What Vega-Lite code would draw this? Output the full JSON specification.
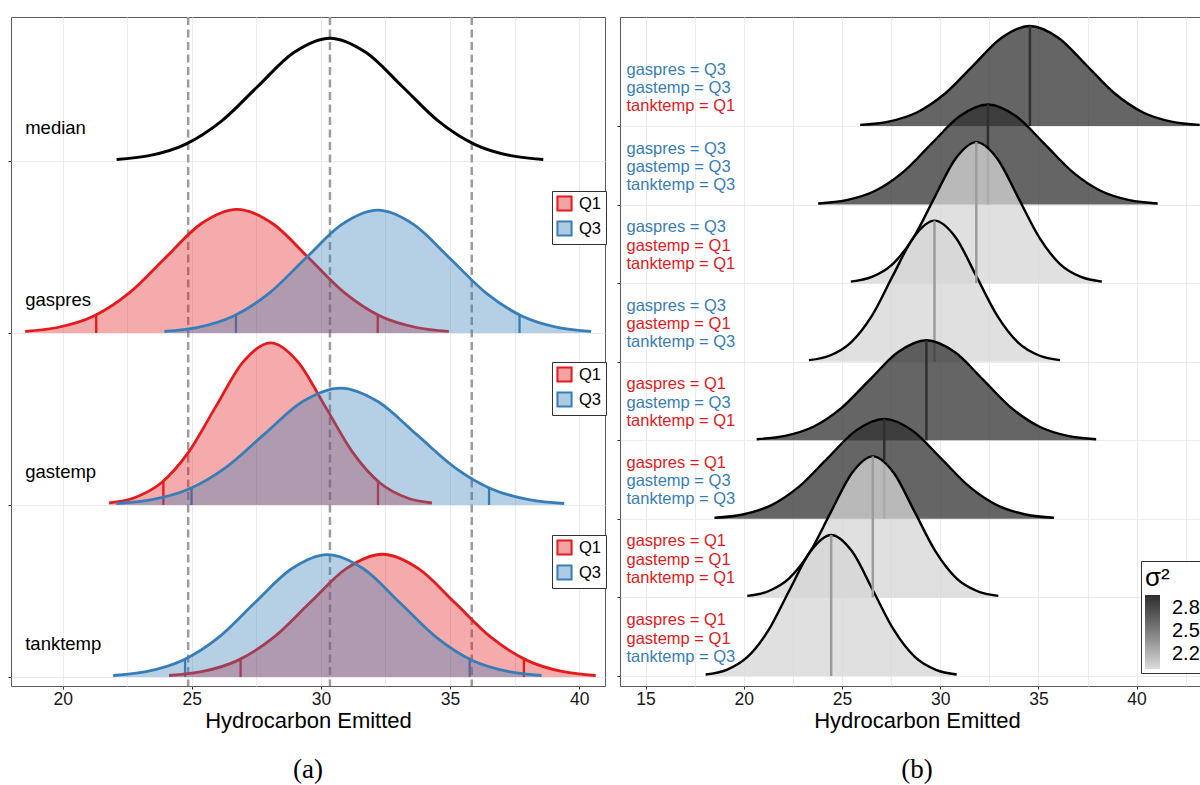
{
  "$schema": "https://vega.github.io/schema/vega-lite/v6.json",
  "padding": {"left": 7, "top": 15, "right": 0, "bottom": 0},
  "spacing": 9,
  "config": {
    "font": "Liberation Sans",
    "view": {"stroke": "#5a5a5a", "strokeWidth": 1},
    "axis": {"domain": false, "gridColor": "#ebebeb", "gridWidth": 1, "tickColor": "#333333", "tickSize": 3, "tickWidth": 1,
      "labelFont": "Liberation Sans", "labelFontSize": 17.5, "labelColor": "#1a1a1a", "labelPadding": 1.5,
      "titleFont": "Liberation Sans", "titleFontSize": 22, "titleFontWeight": "normal", "titleColor": "#000000", "titlePadding": 2},
    "legend": {"labelFont": "Liberation Sans", "titleFont": "Liberation Sans"}
  },
  "datasets": {
    "cA": [
      {"c":"median","g":"M","b":3,"x":22.09,"t":3.009},{"c":"median","g":"M","b":3,"x":23.35,"t":3.031},{"c":"median","g":"M","b":3,"x":24.75,"t":3.097},{"c":"median","g":"M","b":3,"x":26.15,"t":3.232},{"c":"median","g":"M","b":3,"x":27.55,"t":3.433},{"c":"median","g":"M","b":3,"x":28.95,"t":3.630},{"c":"median","g":"M","b":3,"x":30.35,"t":3.714},{"c":"median","g":"M","b":3,"x":31.75,"t":3.630},{"c":"median","g":"M","b":3,"x":33.15,"t":3.433},{"c":"median","g":"M","b":3,"x":34.55,"t":3.232},{"c":"median","g":"M","b":3,"x":35.95,"t":3.097},{"c":"median","g":"M","b":3,"x":37.35,"t":3.031},{"c":"median","g":"M","b":3,"x":38.61,"t":3.009},
      {"c":"gaspres","g":"Q1","b":2,"x":18.55,"t":2.009},{"c":"gaspres","g":"Q1","b":2,"x":19.80,"t":2.032},{"c":"gaspres","g":"Q1","b":2,"x":21.19,"t":2.097},{"c":"gaspres","g":"Q1","b":2,"x":22.58,"t":2.233},{"c":"gaspres","g":"Q1","b":2,"x":23.97,"t":2.436},{"c":"gaspres","g":"Q1","b":2,"x":25.36,"t":2.635},{"c":"gaspres","g":"Q1","b":2,"x":26.75,"t":2.719},{"c":"gaspres","g":"Q1","b":2,"x":28.14,"t":2.635},{"c":"gaspres","g":"Q1","b":2,"x":29.53,"t":2.436},{"c":"gaspres","g":"Q1","b":2,"x":30.92,"t":2.233},{"c":"gaspres","g":"Q1","b":2,"x":32.31,"t":2.097},{"c":"gaspres","g":"Q1","b":2,"x":33.70,"t":2.032},{"c":"gaspres","g":"Q1","b":2,"x":34.95,"t":2.009},
      {"c":"gaspres","g":"Q3","b":2,"x":23.94,"t":2.009},{"c":"gaspres","g":"Q3","b":2,"x":25.20,"t":2.031},{"c":"gaspres","g":"Q3","b":2,"x":26.60,"t":2.097},{"c":"gaspres","g":"Q3","b":2,"x":28.00,"t":2.232},{"c":"gaspres","g":"Q3","b":2,"x":29.40,"t":2.433},{"c":"gaspres","g":"Q3","b":2,"x":30.80,"t":2.630},{"c":"gaspres","g":"Q3","b":2,"x":32.20,"t":2.714},{"c":"gaspres","g":"Q3","b":2,"x":33.60,"t":2.630},{"c":"gaspres","g":"Q3","b":2,"x":35.00,"t":2.433},{"c":"gaspres","g":"Q3","b":2,"x":36.40,"t":2.232},{"c":"gaspres","g":"Q3","b":2,"x":37.80,"t":2.097},{"c":"gaspres","g":"Q3","b":2,"x":39.20,"t":2.031},{"c":"gaspres","g":"Q3","b":2,"x":40.46,"t":2.009},
      {"c":"gastemp","g":"Q1","b":1,"x":21.80,"t":1.012},{"c":"gastemp","g":"Q1","b":1,"x":22.75,"t":1.041},{"c":"gastemp","g":"Q1","b":1,"x":23.81,"t":1.128},{"c":"gastemp","g":"Q1","b":1,"x":24.87,"t":1.306},{"c":"gastemp","g":"Q1","b":1,"x":25.93,"t":1.572},{"c":"gastemp","g":"Q1","b":1,"x":26.99,"t":1.832},{"c":"gastemp","g":"Q1","b":1,"x":28.05,"t":1.943},{"c":"gastemp","g":"Q1","b":1,"x":29.11,"t":1.832},{"c":"gastemp","g":"Q1","b":1,"x":30.17,"t":1.572},{"c":"gastemp","g":"Q1","b":1,"x":31.23,"t":1.306},{"c":"gastemp","g":"Q1","b":1,"x":32.29,"t":1.128},{"c":"gastemp","g":"Q1","b":1,"x":33.35,"t":1.041},{"c":"gastemp","g":"Q1","b":1,"x":34.30,"t":1.012},
      {"c":"gastemp","g":"Q3","b":1,"x":22.08,"t":1.009},{"c":"gastemp","g":"Q3","b":1,"x":23.40,"t":1.030},{"c":"gastemp","g":"Q3","b":1,"x":24.87,"t":1.092},{"c":"gastemp","g":"Q3","b":1,"x":26.34,"t":1.221},{"c":"gastemp","g":"Q3","b":1,"x":27.81,"t":1.412},{"c":"gastemp","g":"Q3","b":1,"x":29.28,"t":1.600},{"c":"gastemp","g":"Q3","b":1,"x":30.75,"t":1.680},{"c":"gastemp","g":"Q3","b":1,"x":32.22,"t":1.600},{"c":"gastemp","g":"Q3","b":1,"x":33.69,"t":1.412},{"c":"gastemp","g":"Q3","b":1,"x":35.16,"t":1.221},{"c":"gastemp","g":"Q3","b":1,"x":36.63,"t":1.092},{"c":"gastemp","g":"Q3","b":1,"x":38.10,"t":1.030},{"c":"gastemp","g":"Q3","b":1,"x":39.42,"t":1.009},
      {"c":"tanktemp","g":"Q1","b":0,"x":24.12,"t":0.009},{"c":"tanktemp","g":"Q1","b":0,"x":25.38,"t":0.031},{"c":"tanktemp","g":"Q1","b":0,"x":26.78,"t":0.097},{"c":"tanktemp","g":"Q1","b":0,"x":28.18,"t":0.232},{"c":"tanktemp","g":"Q1","b":0,"x":29.58,"t":0.433},{"c":"tanktemp","g":"Q1","b":0,"x":30.98,"t":0.630},{"c":"tanktemp","g":"Q1","b":0,"x":32.38,"t":0.714},{"c":"tanktemp","g":"Q1","b":0,"x":33.78,"t":0.630},{"c":"tanktemp","g":"Q1","b":0,"x":35.18,"t":0.433},{"c":"tanktemp","g":"Q1","b":0,"x":36.58,"t":0.232},{"c":"tanktemp","g":"Q1","b":0,"x":37.98,"t":0.097},{"c":"tanktemp","g":"Q1","b":0,"x":39.38,"t":0.031},{"c":"tanktemp","g":"Q1","b":0,"x":40.64,"t":0.009},
      {"c":"tanktemp","g":"Q3","b":0,"x":21.96,"t":0.009},{"c":"tanktemp","g":"Q3","b":0,"x":23.23,"t":0.031},{"c":"tanktemp","g":"Q3","b":0,"x":24.63,"t":0.096},{"c":"tanktemp","g":"Q3","b":0,"x":26.04,"t":0.231},{"c":"tanktemp","g":"Q3","b":0,"x":27.44,"t":0.432},{"c":"tanktemp","g":"Q3","b":0,"x":28.85,"t":0.628},{"c":"tanktemp","g":"Q3","b":0,"x":30.25,"t":0.712},{"c":"tanktemp","g":"Q3","b":0,"x":31.66,"t":0.628},{"c":"tanktemp","g":"Q3","b":0,"x":33.06,"t":0.432},{"c":"tanktemp","g":"Q3","b":0,"x":34.47,"t":0.231},{"c":"tanktemp","g":"Q3","b":0,"x":35.87,"t":0.096},{"c":"tanktemp","g":"Q3","b":0,"x":37.28,"t":0.031},{"c":"tanktemp","g":"Q3","b":0,"x":38.54,"t":0.009}
    ],
    "qA": [
      {"c":"gaspres","g":"Q1","b":2,"x":21.30,"t":2.105},{"c":"gaspres","g":"Q1","b":2,"x":32.20,"t":2.105},
      {"c":"gaspres","g":"Q3","b":2,"x":26.71,"t":2.105},{"c":"gaspres","g":"Q3","b":2,"x":37.69,"t":2.105},
      {"c":"gastemp","g":"Q1","b":1,"x":23.90,"t":1.138},{"c":"gastemp","g":"Q1","b":1,"x":32.21,"t":1.138},
      {"c":"gastemp","g":"Q3","b":1,"x":24.99,"t":1.100},{"c":"gastemp","g":"Q3","b":1,"x":36.51,"t":1.100},
      {"c":"tanktemp","g":"Q1","b":0,"x":26.89,"t":0.105},{"c":"tanktemp","g":"Q1","b":0,"x":37.86,"t":0.105},
      {"c":"tanktemp","g":"Q3","b":0,"x":24.74,"t":0.104},{"c":"tanktemp","g":"Q3","b":0,"x":35.76,"t":0.104}
    ],
    "dA": [{"x":24.86},{"x":30.35},{"x":35.84}],
    "labA": [{"c":"median","b":3},{"c":"gaspres","b":2},{"c":"gastemp","b":1},{"c":"tanktemp","b":0}],
    "cB": [
      {"r":1,"b":7,"s":2.95,"x":25.93,"t":7.014},{"r":1,"b":7,"s":2.95,"x":27.37,"t":7.056},{"r":1,"b":7,"s":2.95,"x":28.81,"t":7.172},{"r":1,"b":7,"s":2.95,"x":30.25,"t":7.413},{"r":1,"b":7,"s":2.95,"x":31.69,"t":7.772},{"r":1,"b":7,"s":2.95,"x":33.13,"t":8.123},{"r":1,"b":7,"s":2.95,"x":34.57,"t":8.273},{"r":1,"b":7,"s":2.95,"x":36.01,"t":8.123},{"r":1,"b":7,"s":2.95,"x":37.45,"t":7.772},{"r":1,"b":7,"s":2.95,"x":38.89,"t":7.413},{"r":1,"b":7,"s":2.95,"x":40.33,"t":7.172},{"r":1,"b":7,"s":2.95,"x":41.77,"t":7.056},{"r":1,"b":7,"s":2.95,"x":43.21,"t":7.014},
      {"r":2,"b":6,"s":2.95,"x":23.79,"t":6.014},{"r":2,"b":6,"s":2.95,"x":25.23,"t":6.056},{"r":2,"b":6,"s":2.95,"x":26.67,"t":6.172},{"r":2,"b":6,"s":2.95,"x":28.11,"t":6.413},{"r":2,"b":6,"s":2.95,"x":29.55,"t":6.772},{"r":2,"b":6,"s":2.95,"x":30.99,"t":7.123},{"r":2,"b":6,"s":2.95,"x":32.43,"t":7.273},{"r":2,"b":6,"s":2.95,"x":33.87,"t":7.123},{"r":2,"b":6,"s":2.95,"x":35.31,"t":6.772},{"r":2,"b":6,"s":2.95,"x":36.75,"t":6.413},{"r":2,"b":6,"s":2.95,"x":38.19,"t":6.172},{"r":2,"b":6,"s":2.95,"x":39.63,"t":6.056},{"r":2,"b":6,"s":2.95,"x":41.07,"t":6.014},
      {"r":3,"b":5,"s":2.03,"x":25.45,"t":5.020},{"r":3,"b":5,"s":2.03,"x":26.52,"t":5.079},{"r":3,"b":5,"s":2.03,"x":27.58,"t":5.243},{"r":3,"b":5,"s":2.03,"x":28.65,"t":5.583},{"r":3,"b":5,"s":2.03,"x":29.71,"t":6.089},{"r":3,"b":5,"s":2.03,"x":30.78,"t":6.584},{"r":3,"b":5,"s":2.03,"x":31.84,"t":6.795},{"r":3,"b":5,"s":2.03,"x":32.91,"t":6.584},{"r":3,"b":5,"s":2.03,"x":33.97,"t":6.089},{"r":3,"b":5,"s":2.03,"x":35.04,"t":5.583},{"r":3,"b":5,"s":2.03,"x":36.10,"t":5.243},{"r":3,"b":5,"s":2.03,"x":37.17,"t":5.079},{"r":3,"b":5,"s":2.03,"x":38.23,"t":5.020},
      {"r":4,"b":4,"s":2.03,"x":23.32,"t":4.020},{"r":4,"b":4,"s":2.03,"x":24.39,"t":4.079},{"r":4,"b":4,"s":2.03,"x":25.45,"t":4.243},{"r":4,"b":4,"s":2.03,"x":26.52,"t":4.583},{"r":4,"b":4,"s":2.03,"x":27.58,"t":5.089},{"r":4,"b":4,"s":2.03,"x":28.65,"t":5.584},{"r":4,"b":4,"s":2.03,"x":29.71,"t":5.795},{"r":4,"b":4,"s":2.03,"x":30.78,"t":5.584},{"r":4,"b":4,"s":2.03,"x":31.84,"t":5.089},{"r":4,"b":4,"s":2.03,"x":32.91,"t":4.583},{"r":4,"b":4,"s":2.03,"x":33.97,"t":4.243},{"r":4,"b":4,"s":2.03,"x":35.04,"t":4.079},{"r":4,"b":4,"s":2.03,"x":36.10,"t":4.020},
      {"r":5,"b":3,"s":2.95,"x":20.66,"t":3.014},{"r":5,"b":3,"s":2.95,"x":22.10,"t":3.056},{"r":5,"b":3,"s":2.95,"x":23.54,"t":3.172},{"r":5,"b":3,"s":2.95,"x":24.98,"t":3.413},{"r":5,"b":3,"s":2.95,"x":26.42,"t":3.772},{"r":5,"b":3,"s":2.95,"x":27.86,"t":4.123},{"r":5,"b":3,"s":2.95,"x":29.30,"t":4.273},{"r":5,"b":3,"s":2.95,"x":30.74,"t":4.123},{"r":5,"b":3,"s":2.95,"x":32.18,"t":3.772},{"r":5,"b":3,"s":2.95,"x":33.62,"t":3.413},{"r":5,"b":3,"s":2.95,"x":35.06,"t":3.172},{"r":5,"b":3,"s":2.95,"x":36.50,"t":3.056},{"r":5,"b":3,"s":2.95,"x":37.94,"t":3.014},
      {"r":6,"b":2,"s":2.95,"x":18.51,"t":2.014},{"r":6,"b":2,"s":2.95,"x":19.95,"t":2.056},{"r":6,"b":2,"s":2.95,"x":21.39,"t":2.172},{"r":6,"b":2,"s":2.95,"x":22.83,"t":2.413},{"r":6,"b":2,"s":2.95,"x":24.27,"t":2.772},{"r":6,"b":2,"s":2.95,"x":25.71,"t":3.123},{"r":6,"b":2,"s":2.95,"x":27.15,"t":3.273},{"r":6,"b":2,"s":2.95,"x":28.59,"t":3.123},{"r":6,"b":2,"s":2.95,"x":30.03,"t":2.772},{"r":6,"b":2,"s":2.95,"x":31.47,"t":2.413},{"r":6,"b":2,"s":2.95,"x":32.91,"t":2.172},{"r":6,"b":2,"s":2.95,"x":34.35,"t":2.056},{"r":6,"b":2,"s":2.95,"x":35.79,"t":2.014},
      {"r":7,"b":1,"s":2.03,"x":20.18,"t":1.020},{"r":7,"b":1,"s":2.03,"x":21.25,"t":1.079},{"r":7,"b":1,"s":2.03,"x":22.31,"t":1.243},{"r":7,"b":1,"s":2.03,"x":23.38,"t":1.583},{"r":7,"b":1,"s":2.03,"x":24.44,"t":2.089},{"r":7,"b":1,"s":2.03,"x":25.51,"t":2.584},{"r":7,"b":1,"s":2.03,"x":26.57,"t":2.795},{"r":7,"b":1,"s":2.03,"x":27.64,"t":2.584},{"r":7,"b":1,"s":2.03,"x":28.70,"t":2.089},{"r":7,"b":1,"s":2.03,"x":29.77,"t":1.583},{"r":7,"b":1,"s":2.03,"x":30.83,"t":1.243},{"r":7,"b":1,"s":2.03,"x":31.90,"t":1.079},{"r":7,"b":1,"s":2.03,"x":32.96,"t":1.020},
      {"r":8,"b":0,"s":2.03,"x":18.06,"t":0.020},{"r":8,"b":0,"s":2.03,"x":19.13,"t":0.079},{"r":8,"b":0,"s":2.03,"x":20.19,"t":0.243},{"r":8,"b":0,"s":2.03,"x":21.26,"t":0.583},{"r":8,"b":0,"s":2.03,"x":22.32,"t":1.089},{"r":8,"b":0,"s":2.03,"x":23.39,"t":1.584},{"r":8,"b":0,"s":2.03,"x":24.45,"t":1.795},{"r":8,"b":0,"s":2.03,"x":25.52,"t":1.584},{"r":8,"b":0,"s":2.03,"x":26.58,"t":1.089},{"r":8,"b":0,"s":2.03,"x":27.65,"t":0.583},{"r":8,"b":0,"s":2.03,"x":28.71,"t":0.243},{"r":8,"b":0,"s":2.03,"x":29.78,"t":0.079},{"r":8,"b":0,"s":2.03,"x":30.84,"t":0.020}
    ],
    "mB": [
      {"r":1,"b":7,"s":2.95,"x":34.57,"t":8.273},{"r":2,"b":6,"s":2.95,"x":32.43,"t":7.273},{"r":3,"b":5,"s":2.03,"x":31.84,"t":6.795},{"r":4,"b":4,"s":2.03,"x":29.71,"t":5.795},
      {"r":5,"b":3,"s":2.95,"x":29.30,"t":4.273},{"r":6,"b":2,"s":2.95,"x":27.15,"t":3.273},{"r":7,"b":1,"s":2.03,"x":26.57,"t":2.795},{"r":8,"b":0,"s":2.03,"x":24.45,"t":1.795}
    ],
    "labB": [
      {"b":7,"k":1,"txt":"gaspres = Q3","q":"Q3"},{"b":7,"k":2,"txt":"gastemp = Q3","q":"Q3"},{"b":7,"k":3,"txt":"tanktemp = Q1","q":"Q1"},
      {"b":6,"k":1,"txt":"gaspres = Q3","q":"Q3"},{"b":6,"k":2,"txt":"gastemp = Q3","q":"Q3"},{"b":6,"k":3,"txt":"tanktemp = Q3","q":"Q3"},
      {"b":5,"k":1,"txt":"gaspres = Q3","q":"Q3"},{"b":5,"k":2,"txt":"gastemp = Q1","q":"Q1"},{"b":5,"k":3,"txt":"tanktemp = Q1","q":"Q1"},
      {"b":4,"k":1,"txt":"gaspres = Q3","q":"Q3"},{"b":4,"k":2,"txt":"gastemp = Q1","q":"Q1"},{"b":4,"k":3,"txt":"tanktemp = Q3","q":"Q3"},
      {"b":3,"k":1,"txt":"gaspres = Q1","q":"Q1"},{"b":3,"k":2,"txt":"gastemp = Q3","q":"Q3"},{"b":3,"k":3,"txt":"tanktemp = Q1","q":"Q1"},
      {"b":2,"k":1,"txt":"gaspres = Q1","q":"Q1"},{"b":2,"k":2,"txt":"gastemp = Q3","q":"Q3"},{"b":2,"k":3,"txt":"tanktemp = Q3","q":"Q3"},
      {"b":1,"k":1,"txt":"gaspres = Q1","q":"Q1"},{"b":1,"k":2,"txt":"gastemp = Q1","q":"Q1"},{"b":1,"k":3,"txt":"tanktemp = Q1","q":"Q1"},
      {"b":0,"k":1,"txt":"gaspres = Q1","q":"Q1"},{"b":0,"k":2,"txt":"gastemp = Q1","q":"Q1"},{"b":0,"k":3,"txt":"tanktemp = Q3","q":"Q3"}
    ]
  },
  "hconcat": [
    {
      "width": 594, "height": 669,
      "title": {"text": "(a)", "orient": "bottom", "anchor": "middle", "font": "Liberation Serif", "fontSize": 27, "fontWeight": "normal", "offset": 26, "color": "#000000"},
      "resolve": {"scale": {"fill": "independent"}},
      "layer": [
        {
          "data": {"name": "dA"},
          "mark": {"type": "rule", "color": "#9c9c9c", "strokeWidth": 2.5, "strokeDash": [8, 4.5]},
          "encoding": {
            "x": {"field": "x", "type": "quantitative", "title": "Hydrocarbon Emitted", "scale": {"domain": [18, 41], "nice": false, "zero": false},
              "axis": {"values": [20, 22.5, 25, 27.5, 30, 32.5, 35, 37.5, 40], "grid": true,
                "labelExpr": "datum.value % 5 === 0 ? datum.label : ''",
                "tickOpacity": {"condition": {"test": "datum.value % 5 === 0", "value": 1}, "value": 0}}}
          }
        },
        {
          "data": {"name": "cA"},
          "transform": [{"filter": "datum.c === 'median'"}],
          "mark": {"type": "line", "color": "#000000", "strokeWidth": 3, "interpolate": "monotone"},
          "encoding": {
            "x": {"field": "x", "type": "quantitative", "title": "Hydrocarbon Emitted", "scale": {"domain": [18, 41], "nice": false, "zero": false}},
            "y": {"field": "t", "type": "quantitative", "title": null, "scale": {"domain": [-0.052, 3.837], "nice": false, "zero": false},
              "axis": {"values": [0, 1, 2, 3], "labels": false, "grid": true}}
          }
        },
        {
          "layer": [
            {"data": {"name": "qA"}, "transform": [{"filter": "datum.c === 'gaspres'"}],
             "mark": {"type": "rule", "strokeWidth": 2.3},
             "encoding": {"x": {"field": "x", "type": "quantitative", "title": "Hydrocarbon Emitted", "scale": {"domain": [18, 41], "nice": false, "zero": false}},
               "y": {"field": "b", "type": "quantitative", "title": null, "scale": {"domain": [-0.052, 3.837], "nice": false, "zero": false}}, "y2": {"field": "t"},
               "stroke": {"field": "g", "type": "nominal", "scale": {"domain": ["Q1", "Q3"], "range": ["#E41A1C", "#377EB8"]}, "legend": null}}},
            {"data": {"name": "cA"}, "transform": [{"filter": "datum.c === 'gaspres' && datum.g === 'Q1'"}],
             "mark": {"type": "area", "fillOpacity": 0.37, "interpolate": "monotone"},
             "encoding": {"x": {"field": "x", "type": "quantitative", "title": "Hydrocarbon Emitted", "scale": {"domain": [18, 41], "nice": false, "zero": false}},
               "y": {"field": "t", "type": "quantitative", "title": null, "scale": {"domain": [-0.052, 3.837], "nice": false, "zero": false}}, "y2": {"field": "b"},
               "fill": {"field": "g", "type": "nominal", "scale": {"domain": ["Q1", "Q3"], "range": ["#E41A1C", "#377EB8"]},
                 "legend": {"orient": "none", "legendX": 541, "legendY": 174, "title": null, "strokeColor": "#333333", "fillColor": "#ffffff", "padding": 4,
                   "labelFontSize": 16.5, "labelColor": "#000000", "labelOffset": 6, "symbolType": "square", "symbolSize": 200, "rowPadding": 2,
                   "encode": {"symbols": {"update": {"stroke": {"signal": "datum.value === 'Q1' ? '#E41A1C' : '#377EB8'"}, "strokeWidth": {"value": 2}, "fillOpacity": {"value": 0.4}, "opacity": {"value": 1}}}}}}}},
            {"data": {"name": "cA"}, "transform": [{"filter": "datum.c === 'gaspres' && datum.g === 'Q1'"}],
             "mark": {"type": "line", "strokeWidth": 2.8, "interpolate": "monotone"},
             "encoding": {"x": {"field": "x", "type": "quantitative", "title": "Hydrocarbon Emitted", "scale": {"domain": [18, 41], "nice": false, "zero": false}},
               "y": {"field": "t", "type": "quantitative", "title": null, "scale": {"domain": [-0.052, 3.837], "nice": false, "zero": false}},
               "stroke": {"field": "g", "type": "nominal", "scale": {"domain": ["Q1", "Q3"], "range": ["#E41A1C", "#377EB8"]}, "legend": null}}},
            {"data": {"name": "cA"}, "transform": [{"filter": "datum.c === 'gaspres' && datum.g === 'Q3'"}],
             "mark": {"type": "area", "fillOpacity": 0.37, "interpolate": "monotone"},
             "encoding": {"x": {"field": "x", "type": "quantitative", "title": "Hydrocarbon Emitted", "scale": {"domain": [18, 41], "nice": false, "zero": false}},
               "y": {"field": "t", "type": "quantitative", "title": null, "scale": {"domain": [-0.052, 3.837], "nice": false, "zero": false}}, "y2": {"field": "b"},
               "fill": {"field": "g", "type": "nominal", "scale": {"domain": ["Q1", "Q3"], "range": ["#E41A1C", "#377EB8"]}}}},
            {"data": {"name": "cA"}, "transform": [{"filter": "datum.c === 'gaspres' && datum.g === 'Q3'"}],
             "mark": {"type": "line", "strokeWidth": 2.8, "interpolate": "monotone"},
             "encoding": {"x": {"field": "x", "type": "quantitative", "title": "Hydrocarbon Emitted", "scale": {"domain": [18, 41], "nice": false, "zero": false}},
               "y": {"field": "t", "type": "quantitative", "title": null, "scale": {"domain": [-0.052, 3.837], "nice": false, "zero": false}},
               "stroke": {"field": "g", "type": "nominal", "scale": {"domain": ["Q1", "Q3"], "range": ["#E41A1C", "#377EB8"]}, "legend": null}}}
          ]
        },
        {
          "layer": [
            {"data": {"name": "qA"}, "transform": [{"filter": "datum.c === 'gastemp'"}],
             "mark": {"type": "rule", "strokeWidth": 2.3},
             "encoding": {"x": {"field": "x", "type": "quantitative", "title": "Hydrocarbon Emitted", "scale": {"domain": [18, 41], "nice": false, "zero": false}},
               "y": {"field": "b", "type": "quantitative", "title": null, "scale": {"domain": [-0.052, 3.837], "nice": false, "zero": false}}, "y2": {"field": "t"},
               "stroke": {"field": "g", "type": "nominal", "scale": {"domain": ["Q1", "Q3"], "range": ["#E41A1C", "#377EB8"]}, "legend": null}}},
            {"data": {"name": "cA"}, "transform": [{"filter": "datum.c === 'gastemp' && datum.g === 'Q1'"}],
             "mark": {"type": "area", "fillOpacity": 0.37, "interpolate": "monotone"},
             "encoding": {"x": {"field": "x", "type": "quantitative", "title": "Hydrocarbon Emitted", "scale": {"domain": [18, 41], "nice": false, "zero": false}},
               "y": {"field": "t", "type": "quantitative", "title": null, "scale": {"domain": [-0.052, 3.837], "nice": false, "zero": false}}, "y2": {"field": "b"},
               "fill": {"field": "g", "type": "nominal", "scale": {"domain": ["Q1", "Q3"], "range": ["#E41A1C", "#377EB8"]},
                 "legend": {"orient": "none", "legendX": 541, "legendY": 345, "title": null, "strokeColor": "#333333", "fillColor": "#ffffff", "padding": 4,
                   "labelFontSize": 16.5, "labelColor": "#000000", "labelOffset": 6, "symbolType": "square", "symbolSize": 200, "rowPadding": 2,
                   "encode": {"symbols": {"update": {"stroke": {"signal": "datum.value === 'Q1' ? '#E41A1C' : '#377EB8'"}, "strokeWidth": {"value": 2}, "fillOpacity": {"value": 0.4}, "opacity": {"value": 1}}}}}}}},
            {"data": {"name": "cA"}, "transform": [{"filter": "datum.c === 'gastemp' && datum.g === 'Q1'"}],
             "mark": {"type": "line", "strokeWidth": 2.8, "interpolate": "monotone"},
             "encoding": {"x": {"field": "x", "type": "quantitative", "title": "Hydrocarbon Emitted", "scale": {"domain": [18, 41], "nice": false, "zero": false}},
               "y": {"field": "t", "type": "quantitative", "title": null, "scale": {"domain": [-0.052, 3.837], "nice": false, "zero": false}},
               "stroke": {"field": "g", "type": "nominal", "scale": {"domain": ["Q1", "Q3"], "range": ["#E41A1C", "#377EB8"]}, "legend": null}}},
            {"data": {"name": "cA"}, "transform": [{"filter": "datum.c === 'gastemp' && datum.g === 'Q3'"}],
             "mark": {"type": "area", "fillOpacity": 0.37, "interpolate": "monotone"},
             "encoding": {"x": {"field": "x", "type": "quantitative", "title": "Hydrocarbon Emitted", "scale": {"domain": [18, 41], "nice": false, "zero": false}},
               "y": {"field": "t", "type": "quantitative", "title": null, "scale": {"domain": [-0.052, 3.837], "nice": false, "zero": false}}, "y2": {"field": "b"},
               "fill": {"field": "g", "type": "nominal", "scale": {"domain": ["Q1", "Q3"], "range": ["#E41A1C", "#377EB8"]}}}},
            {"data": {"name": "cA"}, "transform": [{"filter": "datum.c === 'gastemp' && datum.g === 'Q3'"}],
             "mark": {"type": "line", "strokeWidth": 2.8, "interpolate": "monotone"},
             "encoding": {"x": {"field": "x", "type": "quantitative", "title": "Hydrocarbon Emitted", "scale": {"domain": [18, 41], "nice": false, "zero": false}},
               "y": {"field": "t", "type": "quantitative", "title": null, "scale": {"domain": [-0.052, 3.837], "nice": false, "zero": false}},
               "stroke": {"field": "g", "type": "nominal", "scale": {"domain": ["Q1", "Q3"], "range": ["#E41A1C", "#377EB8"]}, "legend": null}}}
          ]
        },
        {
          "layer": [
            {"data": {"name": "qA"}, "transform": [{"filter": "datum.c === 'tanktemp'"}],
             "mark": {"type": "rule", "strokeWidth": 2.3},
             "encoding": {"x": {"field": "x", "type": "quantitative", "title": "Hydrocarbon Emitted", "scale": {"domain": [18, 41], "nice": false, "zero": false}},
               "y": {"field": "b", "type": "quantitative", "title": null, "scale": {"domain": [-0.052, 3.837], "nice": false, "zero": false}}, "y2": {"field": "t"},
               "stroke": {"field": "g", "type": "nominal", "scale": {"domain": ["Q1", "Q3"], "range": ["#E41A1C", "#377EB8"]}, "legend": null}}},
            {"data": {"name": "cA"}, "transform": [{"filter": "datum.c === 'tanktemp' && datum.g === 'Q1'"}],
             "mark": {"type": "area", "fillOpacity": 0.37, "interpolate": "monotone"},
             "encoding": {"x": {"field": "x", "type": "quantitative", "title": "Hydrocarbon Emitted", "scale": {"domain": [18, 41], "nice": false, "zero": false}},
               "y": {"field": "t", "type": "quantitative", "title": null, "scale": {"domain": [-0.052, 3.837], "nice": false, "zero": false}}, "y2": {"field": "b"},
               "fill": {"field": "g", "type": "nominal", "scale": {"domain": ["Q1", "Q3"], "range": ["#E41A1C", "#377EB8"]},
                 "legend": {"orient": "none", "legendX": 541, "legendY": 518, "title": null, "strokeColor": "#333333", "fillColor": "#ffffff", "padding": 4,
                   "labelFontSize": 16.5, "labelColor": "#000000", "labelOffset": 6, "symbolType": "square", "symbolSize": 200, "rowPadding": 2,
                   "encode": {"symbols": {"update": {"stroke": {"signal": "datum.value === 'Q1' ? '#E41A1C' : '#377EB8'"}, "strokeWidth": {"value": 2}, "fillOpacity": {"value": 0.4}, "opacity": {"value": 1}}}}}}}},
            {"data": {"name": "cA"}, "transform": [{"filter": "datum.c === 'tanktemp' && datum.g === 'Q1'"}],
             "mark": {"type": "line", "strokeWidth": 2.8, "interpolate": "monotone"},
             "encoding": {"x": {"field": "x", "type": "quantitative", "title": "Hydrocarbon Emitted", "scale": {"domain": [18, 41], "nice": false, "zero": false}},
               "y": {"field": "t", "type": "quantitative", "title": null, "scale": {"domain": [-0.052, 3.837], "nice": false, "zero": false}},
               "stroke": {"field": "g", "type": "nominal", "scale": {"domain": ["Q1", "Q3"], "range": ["#E41A1C", "#377EB8"]}, "legend": null}}},
            {"data": {"name": "cA"}, "transform": [{"filter": "datum.c === 'tanktemp' && datum.g === 'Q3'"}],
             "mark": {"type": "area", "fillOpacity": 0.37, "interpolate": "monotone"},
             "encoding": {"x": {"field": "x", "type": "quantitative", "title": "Hydrocarbon Emitted", "scale": {"domain": [18, 41], "nice": false, "zero": false}},
               "y": {"field": "t", "type": "quantitative", "title": null, "scale": {"domain": [-0.052, 3.837], "nice": false, "zero": false}}, "y2": {"field": "b"},
               "fill": {"field": "g", "type": "nominal", "scale": {"domain": ["Q1", "Q3"], "range": ["#E41A1C", "#377EB8"]}}}},
            {"data": {"name": "cA"}, "transform": [{"filter": "datum.c === 'tanktemp' && datum.g === 'Q3'"}],
             "mark": {"type": "line", "strokeWidth": 2.8, "interpolate": "monotone"},
             "encoding": {"x": {"field": "x", "type": "quantitative", "title": "Hydrocarbon Emitted", "scale": {"domain": [18, 41], "nice": false, "zero": false}},
               "y": {"field": "t", "type": "quantitative", "title": null, "scale": {"domain": [-0.052, 3.837], "nice": false, "zero": false}},
               "stroke": {"field": "g", "type": "nominal", "scale": {"domain": ["Q1", "Q3"], "range": ["#E41A1C", "#377EB8"]}, "legend": null}}}
          ]
        },
        {
          "data": {"name": "labA"},
          "mark": {"type": "text", "align": "left", "baseline": "middle", "dy": -33, "fontSize": 18.5, "color": "#000000", "font": "Liberation Sans"},
          "encoding": {
            "x": {"datum": 18.55, "type": "quantitative", "scale": {"domain": [18, 41], "nice": false, "zero": false}},
            "y": {"field": "b", "type": "quantitative", "title": null, "scale": {"domain": [-0.052, 3.837], "nice": false, "zero": false}},
            "text": {"field": "c"}
          }
        }
      ]
    },
    {
      "width": 594, "height": 669,
      "title": {"text": "(b)", "orient": "bottom", "anchor": "middle", "font": "Liberation Serif", "fontSize": 27, "fontWeight": "normal", "offset": 26, "color": "#000000"},
      "layer": [
        {"data": {"name": "cB"}, "transform": [{"filter": "datum.r <= 2"}],
         "mark": {"type": "area", "fillOpacity": 0.75, "interpolate": "monotone"},
         "encoding": {
           "x": {"field": "x", "type": "quantitative", "title": "Hydrocarbon Emitted", "scale": {"domain": [13.7, 43.94], "nice": false, "zero": false},
             "axis": {"values": [15, 17.5, 20, 22.5, 25, 27.5, 30, 32.5, 35, 37.5, 40, 42.5], "grid": true,
               "labelExpr": "datum.value % 5 === 0 ? datum.label : ''",
               "tickOpacity": {"condition": {"test": "datum.value % 5 === 0", "value": 1}, "value": 0}}},
           "y": {"field": "t", "type": "quantitative", "title": null, "scale": {"domain": [-0.127, 8.387], "nice": false, "zero": false},
             "axis": {"values": [0, 1, 2, 3, 4, 5, 6, 7], "labels": false, "grid": true}},
           "y2": {"field": "b"},
           "detail": {"field": "r", "type": "nominal"},
           "fill": {"field": "s", "type": "quantitative", "scale": {"domain": [2.0, 2.97], "range": ["#dcdcdc", "#2e2e2e"]},
             "legend": {"orient": "none", "legendX": 1130, "legendY": 544, "title": "σ²", "titleFontSize": 26, "titleFontWeight": "normal", "titleColor": "#000000", "titlePadding": 4,
               "gradientLength": 74, "gradientThickness": 15, "values": [2.2, 2.5, 2.8], "format": ".1f", "labelFontSize": 20, "labelColor": "#000000", "labelOffset": 12,
               "strokeColor": "#333333", "fillColor": "#ffffff", "padding": 4, "direction": "vertical", "gradientStrokeWidth": 0}}
         }},
        {"data": {"name": "cB"}, "transform": [{"filter": "datum.r <= 2"}],
         "mark": {"type": "line", "color": "#000000", "strokeWidth": 2.4, "interpolate": "monotone"},
         "encoding": {
           "x": {"field": "x", "type": "quantitative", "title": "Hydrocarbon Emitted", "scale": {"domain": [13.7, 43.94], "nice": false, "zero": false}},
           "y": {"field": "t", "type": "quantitative", "title": null, "scale": {"domain": [-0.127, 8.387], "nice": false, "zero": false}},
           "detail": {"field": "r", "type": "nominal"}}},
        {"data": {"name": "mB"}, "transform": [{"filter": "datum.r <= 2"}],
         "mark": {"type": "rule", "strokeWidth": 2.5},
         "encoding": {
           "x": {"field": "x", "type": "quantitative", "title": "Hydrocarbon Emitted", "scale": {"domain": [13.7, 43.94], "nice": false, "zero": false}},
           "y": {"field": "b", "type": "quantitative", "title": null, "scale": {"domain": [-0.127, 8.387], "nice": false, "zero": false}},
           "y2": {"field": "t"},
           "stroke": {"field": "s", "type": "quantitative", "scale": {"domain": [2.0, 2.97], "range": ["#a0a0a0", "#2e2e2e"]}, "legend": null}}},
        {"data": {"name": "cB"}, "transform": [{"filter": "datum.r >= 3 && datum.r <= 4"}],
         "mark": {"type": "area", "fillOpacity": 0.75, "interpolate": "monotone"},
         "encoding": {
           "x": {"field": "x", "type": "quantitative", "title": "Hydrocarbon Emitted", "scale": {"domain": [13.7, 43.94], "nice": false, "zero": false}},
           "y": {"field": "t", "type": "quantitative", "title": null, "scale": {"domain": [-0.127, 8.387], "nice": false, "zero": false}},
           "y2": {"field": "b"},
           "detail": {"field": "r", "type": "nominal"},
           "fill": {"field": "s", "type": "quantitative", "scale": {"domain": [2.0, 2.97], "range": ["#dcdcdc", "#2e2e2e"]}}}},
        {"data": {"name": "cB"}, "transform": [{"filter": "datum.r >= 3 && datum.r <= 4"}],
         "mark": {"type": "line", "color": "#000000", "strokeWidth": 2.4, "interpolate": "monotone"},
         "encoding": {
           "x": {"field": "x", "type": "quantitative", "title": "Hydrocarbon Emitted", "scale": {"domain": [13.7, 43.94], "nice": false, "zero": false}},
           "y": {"field": "t", "type": "quantitative", "title": null, "scale": {"domain": [-0.127, 8.387], "nice": false, "zero": false}},
           "detail": {"field": "r", "type": "nominal"}}},
        {"data": {"name": "mB"}, "transform": [{"filter": "datum.r >= 3 && datum.r <= 4"}],
         "mark": {"type": "rule", "strokeWidth": 2.5},
         "encoding": {
           "x": {"field": "x", "type": "quantitative", "title": "Hydrocarbon Emitted", "scale": {"domain": [13.7, 43.94], "nice": false, "zero": false}},
           "y": {"field": "b", "type": "quantitative", "title": null, "scale": {"domain": [-0.127, 8.387], "nice": false, "zero": false}},
           "y2": {"field": "t"},
           "stroke": {"field": "s", "type": "quantitative", "scale": {"domain": [2.0, 2.97], "range": ["#a0a0a0", "#2e2e2e"]}, "legend": null}}},
        {"data": {"name": "cB"}, "transform": [{"filter": "datum.r >= 5 && datum.r <= 6"}],
         "mark": {"type": "area", "fillOpacity": 0.75, "interpolate": "monotone"},
         "encoding": {
           "x": {"field": "x", "type": "quantitative", "title": "Hydrocarbon Emitted", "scale": {"domain": [13.7, 43.94], "nice": false, "zero": false}},
           "y": {"field": "t", "type": "quantitative", "title": null, "scale": {"domain": [-0.127, 8.387], "nice": false, "zero": false}},
           "y2": {"field": "b"},
           "detail": {"field": "r", "type": "nominal"},
           "fill": {"field": "s", "type": "quantitative", "scale": {"domain": [2.0, 2.97], "range": ["#dcdcdc", "#2e2e2e"]}}}},
        {"data": {"name": "cB"}, "transform": [{"filter": "datum.r >= 5 && datum.r <= 6"}],
         "mark": {"type": "line", "color": "#000000", "strokeWidth": 2.4, "interpolate": "monotone"},
         "encoding": {
           "x": {"field": "x", "type": "quantitative", "title": "Hydrocarbon Emitted", "scale": {"domain": [13.7, 43.94], "nice": false, "zero": false}},
           "y": {"field": "t", "type": "quantitative", "title": null, "scale": {"domain": [-0.127, 8.387], "nice": false, "zero": false}},
           "detail": {"field": "r", "type": "nominal"}}},
        {"data": {"name": "mB"}, "transform": [{"filter": "datum.r >= 5 && datum.r <= 6"}],
         "mark": {"type": "rule", "strokeWidth": 2.5},
         "encoding": {
           "x": {"field": "x", "type": "quantitative", "title": "Hydrocarbon Emitted", "scale": {"domain": [13.7, 43.94], "nice": false, "zero": false}},
           "y": {"field": "b", "type": "quantitative", "title": null, "scale": {"domain": [-0.127, 8.387], "nice": false, "zero": false}},
           "y2": {"field": "t"},
           "stroke": {"field": "s", "type": "quantitative", "scale": {"domain": [2.0, 2.97], "range": ["#a0a0a0", "#2e2e2e"]}, "legend": null}}},
        {"data": {"name": "cB"}, "transform": [{"filter": "datum.r >= 7"}],
         "mark": {"type": "area", "fillOpacity": 0.75, "interpolate": "monotone"},
         "encoding": {
           "x": {"field": "x", "type": "quantitative", "title": "Hydrocarbon Emitted", "scale": {"domain": [13.7, 43.94], "nice": false, "zero": false}},
           "y": {"field": "t", "type": "quantitative", "title": null, "scale": {"domain": [-0.127, 8.387], "nice": false, "zero": false}},
           "y2": {"field": "b"},
           "detail": {"field": "r", "type": "nominal"},
           "fill": {"field": "s", "type": "quantitative", "scale": {"domain": [2.0, 2.97], "range": ["#dcdcdc", "#2e2e2e"]}}}},
        {"data": {"name": "cB"}, "transform": [{"filter": "datum.r >= 7"}],
         "mark": {"type": "line", "color": "#000000", "strokeWidth": 2.4, "interpolate": "monotone"},
         "encoding": {
           "x": {"field": "x", "type": "quantitative", "title": "Hydrocarbon Emitted", "scale": {"domain": [13.7, 43.94], "nice": false, "zero": false}},
           "y": {"field": "t", "type": "quantitative", "title": null, "scale": {"domain": [-0.127, 8.387], "nice": false, "zero": false}},
           "detail": {"field": "r", "type": "nominal"}}},
        {"data": {"name": "mB"}, "transform": [{"filter": "datum.r >= 7"}],
         "mark": {"type": "rule", "strokeWidth": 2.5},
         "encoding": {
           "x": {"field": "x", "type": "quantitative", "title": "Hydrocarbon Emitted", "scale": {"domain": [13.7, 43.94], "nice": false, "zero": false}},
           "y": {"field": "b", "type": "quantitative", "title": null, "scale": {"domain": [-0.127, 8.387], "nice": false, "zero": false}},
           "y2": {"field": "t"},
           "stroke": {"field": "s", "type": "quantitative", "scale": {"domain": [2.0, 2.97], "range": ["#a0a0a0", "#2e2e2e"]}, "legend": null}}},
        {"data": {"name": "labB"}, "transform": [{"filter": "datum.k === 1"}],
         "mark": {"type": "text", "align": "left", "baseline": "middle", "dy": -56, "fontSize": 16.5, "font": "Liberation Sans"},
         "encoding": {
           "x": {"datum": 14.03, "type": "quantitative", "scale": {"domain": [13.7, 43.94], "nice": false, "zero": false}},
           "y": {"field": "b", "type": "quantitative", "title": null, "scale": {"domain": [-0.127, 8.387], "nice": false, "zero": false}},
           "text": {"field": "txt"},
           "color": {"field": "q", "type": "nominal", "scale": {"domain": ["Q1", "Q3"], "range": ["#E41A1C", "#377EB8"]}, "legend": null}}},
        {"data": {"name": "labB"}, "transform": [{"filter": "datum.k === 2"}],
         "mark": {"type": "text", "align": "left", "baseline": "middle", "dy": -37.5, "fontSize": 16.5, "font": "Liberation Sans"},
         "encoding": {
           "x": {"datum": 14.03, "type": "quantitative", "scale": {"domain": [13.7, 43.94], "nice": false, "zero": false}},
           "y": {"field": "b", "type": "quantitative", "title": null, "scale": {"domain": [-0.127, 8.387], "nice": false, "zero": false}},
           "text": {"field": "txt"},
           "color": {"field": "q", "type": "nominal", "scale": {"domain": ["Q1", "Q3"], "range": ["#E41A1C", "#377EB8"]}, "legend": null}}},
        {"data": {"name": "labB"}, "transform": [{"filter": "datum.k === 3"}],
         "mark": {"type": "text", "align": "left", "baseline": "middle", "dy": -19.5, "fontSize": 16.5, "font": "Liberation Sans"},
         "encoding": {
           "x": {"datum": 14.03, "type": "quantitative", "scale": {"domain": [13.7, 43.94], "nice": false, "zero": false}},
           "y": {"field": "b", "type": "quantitative", "title": null, "scale": {"domain": [-0.127, 8.387], "nice": false, "zero": false}},
           "text": {"field": "txt"},
           "color": {"field": "q", "type": "nominal", "scale": {"domain": ["Q1", "Q3"], "range": ["#E41A1C", "#377EB8"]}, "legend": null}}}
      ]
    }
  ]
}
